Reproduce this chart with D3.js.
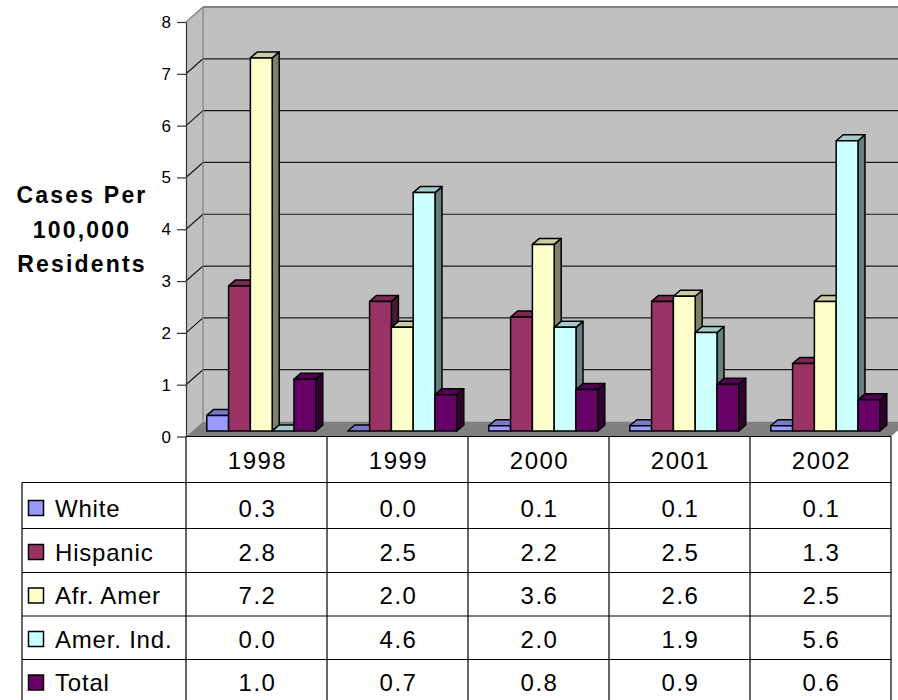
<!DOCTYPE html>
<html>
<head>
<meta charset="utf-8">
<script src="https://cdn.jsdelivr.net/npm/d3@7"></script>
<style>
  html, body { margin: 0; padding: 0; background: #fff; }
  svg { display: block; font-family: Arial, "Liberation Sans", sans-serif; }
</style>
</head>
<body>
<svg id="chart" width="898" height="700"></svg>
<script>
// ---------- data ----------
const years = ["1998", "1999", "2000", "2001", "2002"];
const seriesNames = ["White", "Hispanic", "Afr. Amer", "Amer. Ind.", "Total"];
const white    = [0.3, 0.0, 0.1, 0.1, 0.1];
const hispanic = [2.8, 2.5, 2.2, 2.5, 1.3];
const afrAmer  = [7.2, 2.0, 3.6, 2.6, 2.5];
const amerInd  = [0.0, 4.6, 2.0, 1.9, 5.6];
const total    = [1.0, 0.7, 0.8, 0.9, 0.6];
const seriesColors = ["#9999FF", "#993366", "#FFFFCC", "#CCFFFF", "#660066"];
const yTickValues = [0, 1, 2, 3, 4, 5, 6, 7, 8];
const yLabelLines = ["Cases Per", "100,000", "Residents"];

const seriesValues = [white, hispanic, afrAmer, amerInd, total];

// ---------- layout ----------
const svg = d3.select("#chart");
const X0 = 186, X1 = 891;
const WALL = { dx: 17, dy: -15 };
const BAR_T = 0.37;
const BAR_D = { dx: 7, dy: -6 };

const y = d3.scaleLinear().domain([0, 8]).range([436.5, 22]);
const xYear = d3.scaleBand().domain(years).range([X0, X1]);
const xSeries = d3.scaleBand().domain(seriesNames).range([14.5, 123.5]);

const shade = (c, k) => {
  const r = d3.rgb(c);
  return d3.rgb(r.r * k, r.g * k, r.b * k).formatHex();
};

// ---------- walls ----------
const wallG = svg.append("g");
wallG.append("rect")
  .attr("x", X0 + WALL.dx).attr("y", y(8) + WALL.dy)
  .attr("width", X1 - X0).attr("height", y(0) - y(8))
  .attr("fill", "#C0C0C0");
wallG.append("polygon")
  .attr("points", [[X0, y(8)], [X0 + WALL.dx, y(8) + WALL.dy], [X0 + WALL.dx, y(0) + WALL.dy], [X0, y(0)]].join(" "))
  .attr("fill", "#C0C0C0");
wallG.append("polygon")
  .attr("points", [[X0, y(0)], [X1, y(0)], [X1 + WALL.dx, y(0) + WALL.dy], [X0 + WALL.dx, y(0) + WALL.dy]].join(" "))
  .attr("fill", "#808080");

const gridVals = yTickValues.filter(v => v > 0 && v < 8);
wallG.selectAll("line.gb").data(gridVals).join("line")
  .attr("x1", X0 + WALL.dx).attr("x2", X1 + WALL.dx)
  .attr("y1", d => y(d) + WALL.dy).attr("y2", d => y(d) + WALL.dy)
  .attr("stroke", "#1a1a1a").attr("stroke-width", 1.2);
wallG.selectAll("line.gs").data(gridVals.concat([8])).join("line")
  .attr("x1", X0).attr("x2", X0 + WALL.dx)
  .attr("y1", d => y(d)).attr("y2", d => y(d) + WALL.dy)
  .attr("stroke", d => d === 8 ? "#808080" : "#1a1a1a").attr("stroke-width", 1.2);
wallG.append("line")
  .attr("x1", X0 + WALL.dx).attr("x2", X1 + WALL.dx)
  .attr("y1", y(8) + WALL.dy).attr("y2", y(8) + WALL.dy)
  .attr("stroke", "#808080").attr("stroke-width", 2);
wallG.append("line")
  .attr("x1", X0 + WALL.dx).attr("x2", X0 + WALL.dx)
  .attr("y1", y(8) + WALL.dy).attr("y2", y(0) + WALL.dy)
  .attr("stroke", "#808080").attr("stroke-width", 1.2);

// ---------- bars ----------
const barG = svg.append("g");
const ox = WALL.dx * BAR_T, oy = WALL.dy * BAR_T;
const bw = xSeries.bandwidth();
years.forEach((yr, i) => {
  seriesNames.forEach((s, j) => {
    const v = seriesValues[j][i];
    const col = seriesColors[j];
    const xl = xYear(yr) + xSeries(s) + ox;
    const xr = xl + bw;
    const yt = y(v) + oy;
    const yb = y(0) + oy;
    const g = barG.append("g")
      .attr("stroke", "#000").attr("stroke-width", 1.5).attr("stroke-linejoin", "round");
    g.append("polygon")
      .attr("points", [[xr, yt], [xr + BAR_D.dx, yt + BAR_D.dy], [xr + BAR_D.dx, yb + BAR_D.dy], [xr, yb]].join(" "))
      .attr("fill", shade(col, 0.5));
    g.append("polygon")
      .attr("points", [[xl, yt], [xr, yt], [xr + BAR_D.dx, yt + BAR_D.dy], [xl + BAR_D.dx, yt + BAR_D.dy]].join(" "))
      .attr("fill", shade(col, 0.8));
    g.append("rect")
      .attr("x", xl).attr("y", yt).attr("width", bw).attr("height", yb - yt)
      .attr("fill", col);
  });
});

// ---------- y axis ----------
const axis = d3.axisLeft(y).tickValues(yTickValues).tickSize(9).tickSizeOuter(0).tickFormat(() => "");
const axG = svg.append("g").attr("transform", `translate(${X0},0)`).call(axis);
axG.select(".domain").attr("stroke", "#333").attr("stroke-width", 1.2);
axG.selectAll(".tick line").attr("stroke", "#333").attr("stroke-width", 1.2);
// tick labels
svg.append("g").selectAll("text").data(yTickValues).join("text")
  .attr("x", X0 - 15).attr("y", d => y(d) + 6)
  .attr("text-anchor", "end")
  .style("font-size", "17px").style("font-family", "Arial, 'Liberation Sans', sans-serif")
  .attr("fill", "#000")
  .text(d => d3.format("d")(d));

svg.append("g").selectAll("text").data(yLabelLines).join("text")
  .attr("x", 82).attr("y", (d, i) => 203 + i * 34.5)
  .attr("text-anchor", "middle")
  .attr("font-size", 23).attr("font-weight", "bold")
  .attr("letter-spacing", "2.2px")
  .text(d => d);

// ---------- data table ----------
const tbl = svg.append("g");
const rowEdges = [436.5, 482.5, 528.5, 572.5, 616, 659.5, 703];
const TL = 22;
const colEdges = [X0].concat(years.map(yr => xYear(yr) + xYear.bandwidth()));

tbl.selectAll("line.h").data(rowEdges.slice(1)).join("line")
  .attr("x1", TL).attr("x2", X1)
  .attr("y1", d => d).attr("y2", d => d)
  .attr("stroke", "#000").attr("stroke-width", 1.2);
tbl.append("line").attr("x1", X0).attr("x2", X1).attr("y1", rowEdges[0]).attr("y2", rowEdges[0])
  .attr("stroke", "#000").attr("stroke-width", 1.2);
tbl.selectAll("line.v").data(colEdges).join("line")
  .attr("x1", d => d).attr("x2", d => d)
  .attr("y1", rowEdges[0]).attr("y2", 705)
  .attr("stroke", "#000").attr("stroke-width", 1.2);
tbl.append("line").attr("x1", TL).attr("x2", TL).attr("y1", rowEdges[1]).attr("y2", 705)
  .attr("stroke", "#000").attr("stroke-width", 1.2);

tbl.selectAll("text.yr").data(years).join("text")
  .attr("x", d => xYear(d) + xYear.bandwidth() / 2 + 1)
  .attr("y", rowEdges[1] - 14)
  .attr("text-anchor", "middle").attr("font-size", 24).attr("letter-spacing", "1.5px")
  .text(d => d);

seriesNames.forEach((s, j) => {
  const base = rowEdges[j + 2] - 12;
  tbl.append("rect")
    .attr("x", 28.5).attr("y", base - 16).attr("width", 15).attr("height", 15)
    .attr("fill", seriesColors[j]).attr("stroke", "#000").attr("stroke-width", 1.5);
  tbl.append("text")
    .attr("x", 55).attr("y", base)
    .attr("font-size", 24).attr("letter-spacing", "0.8px")
    .text(s);
  tbl.selectAll(null).data(seriesValues[j]).join("text")
    .attr("x", (d, i) => xYear(years[i]) + xYear.bandwidth() / 2 + 1)
    .attr("y", base)
    .attr("text-anchor", "middle").attr("font-size", 24).attr("letter-spacing", "1.5px")
    .text(d => d3.format(".1f")(d));
});
</script>
</body>
</html>
